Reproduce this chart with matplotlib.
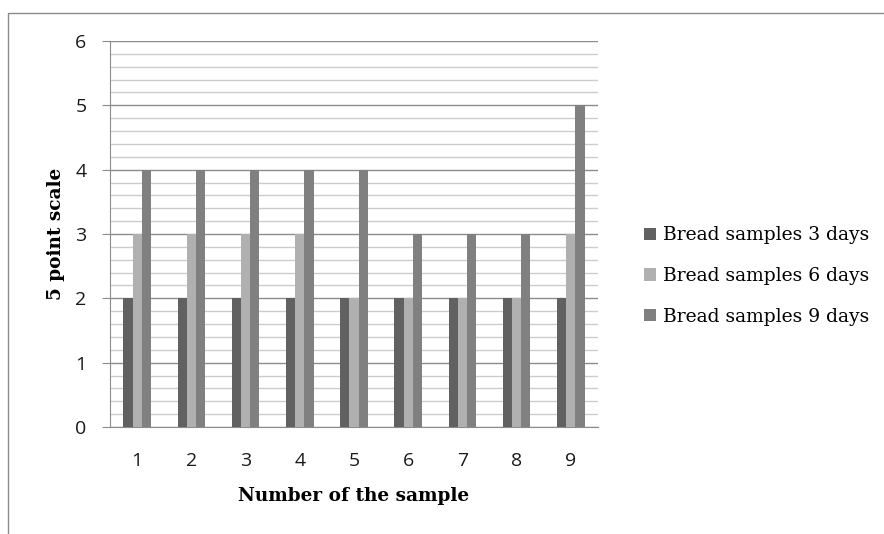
import numpy as np
import matplotlib.pyplot as plt
from matplotlib.patches import Rectangle
from matplotlib.ticker import MultipleLocator

samples = ["1", "2", "3", "4", "5", "6", "7", "8", "9"]
days_3 = [2, 2, 2, 2, 2, 2, 2, 2, 2]
days_6 = [3, 3, 3, 3, 2, 2, 2, 2, 3]
days_9 = [4, 4, 4, 4, 4, 3, 3, 3, 5]
series_names = ["Bread samples 3 days", "Bread samples 6 days", "Bread samples 9 days"]
colors = ["#616161", "#b0b0b0", "#808080"]

fig = plt.figure(figsize=(8.84, 5.34), dpi=100)
# outer chart frame
fig.patches.append(Rectangle((8 / 884, -0.1), 1.2, (534 - 13) / 534 + 0.1,
                             transform=fig.transFigure, fill=False,
                             edgecolor="#8c8c8c", linewidth=1.0))

ax = fig.add_axes([110 / 884, 107 / 534, 488 / 884, 386 / 534])

x = np.arange(len(samples))
w = 0.17
for i, (vals, name) in enumerate(zip([days_3, days_6, days_9], series_names)):
    ax.bar(x + (i - 1) * w, vals, width=w, color=colors[i], label=name, zorder=3)

ax.set_xlim(-0.5, len(samples) - 0.5)
ax.set_ylim(0, 6)
ax.yaxis.set_major_locator(MultipleLocator(1))
ax.yaxis.set_minor_locator(MultipleLocator(0.2))
ax.grid(which="major", axis="y", color="#8c8c8c", linewidth=1.0, zorder=0)
ax.grid(which="minor", axis="y", color="#cccccc", linewidth=1.0, zorder=0)
ax.set_xticks(x)
ax.set_xticklabels(samples)

for s in ["top", "right"]:
    ax.spines[s].set_visible(False)
ax.spines["left"].set_color("#8c8c8c")
ax.spines["bottom"].set_color("#8c8c8c")
ax.tick_params(axis="y", which="major", length=6, color="#8c8c8c",
               labelsize=14, pad=11, labelcolor="#1a1a1a")
ax.tick_params(axis="y", which="minor", length=0)
ax.tick_params(axis="x", length=0, labelsize=14, pad=18, labelcolor="#1a1a1a")
for lbl in ax.get_xticklabels() + ax.get_yticklabels():
    lbl.set_family("Open Sans")

ax.set_xlabel("Number of the sample", family="DejaVu Serif",
              fontweight="bold", fontsize=13.3, labelpad=12)
ax.set_ylabel("5 point scale", family="DejaVu Serif",
              fontweight="bold", fontsize=13.3, labelpad=7)

ax.legend(loc="center left", bbox_to_anchor=(644 / 884, 258 / 534),
          bbox_transform=fig.transFigure, frameon=False, borderpad=0,
          borderaxespad=0,
          prop={"family": "DejaVu Serif", "size": 13.5},
          handlelength=0.65, handleheight=0.65, handletextpad=0.35,
          labelspacing=1.2)

plt.savefig("out.png", dpi=100)
